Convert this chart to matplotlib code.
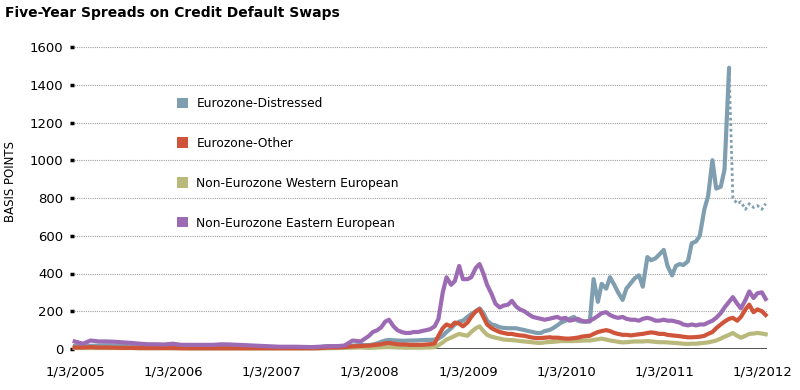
import pandas as pd
import matplotlib
matplotlib.use('Agg')
import matplotlib.pyplot as plt
from matplotlib.patches import Patch

# monthly points 2005-2007, semi-monthly from 2008 on
dates = list(pd.date_range('2005-01-01', '2007-12-01', freq='MS')) + \
        list(pd.date_range('2008-01-01', '2012-01-15', freq='SMS'))

distressed = [
    18, 17, 17, 18, 20, 18, 17, 16, 15, 14, 14, 13,  # 2005
    13, 12, 12, 12, 13, 13, 12, 12, 11, 10, 10, 10,  # 2006
    9, 8, 8, 8, 8, 9, 10, 14, 14, 16, 18, 22,  # 2007
    20, 24, 30, 38, 45, 48, 46, 45, 44, 44, 45, 45,
    46, 47, 48, 48, 50, 55, 70, 90, 110, 130, 145, 150,  # 2008
    170, 185, 200, 215, 190, 150, 130, 125, 115, 112, 110, 110,
    110, 105, 100, 95, 90, 85, 85, 95, 100, 110, 125, 140,  # 2009
    150, 160, 170, 150, 145, 145, 145, 370, 250, 345, 320, 380,
    340, 300, 260, 320, 350, 375, 390, 330, 487, 470, 480, 500,  # 2010
    525, 440, 390, 440, 450, 445, 465, 560, 570, 600, 740, 810,
    1000, 850, 860, 950, 1490, 800, 770, 780, 740, 770, 750, 760,  # 2011
    740, 770,  # 2012
]
other = [
    8, 8, 10, 8, 8, 7, 6, 6, 5, 5, 5, 5,
    5, 4, 4, 4, 4, 4, 4, 4, 4, 4, 4, 4,
    4, 4, 4, 4, 4, 4, 5, 8, 8, 10, 14, 16,
    18, 20, 22, 25, 30, 32, 28, 25, 24, 24, 22, 22,
    22, 22, 24, 25, 30, 70, 110, 130, 120, 140, 135, 120,
    140, 170, 200, 210, 170, 130, 110, 100, 90, 85, 80, 80,
    75, 72, 70, 65, 60, 58, 58, 60, 62, 60, 60, 58,
    55, 55, 58, 60, 65, 68, 70, 80, 90, 95, 100, 95,
    85, 80, 75, 75, 72, 75, 78, 80, 85, 88, 85, 80,
    80, 75, 72, 70, 68, 65, 62, 62, 63, 65, 70, 80,
    90, 110, 130, 145, 160, 165, 150, 170, 210, 235, 195, 210,
    200, 180,
]
western = [
    5, 5, 5, 5, 5, 5, 5, 5, 4, 4, 4, 4,
    4, 4, 3, 3, 3, 3, 3, 3, 3, 3, 3, 3,
    3, 3, 3, 3, 3, 3, 3, 4, 5, 6, 7, 8,
    6, 7, 8, 9, 10, 10, 9, 8, 8, 7, 7, 7,
    7, 7, 8, 8, 10, 20, 35, 50, 60, 70, 80, 75,
    70, 90, 110, 120, 95, 75, 65, 60, 55, 50, 48, 47,
    45, 42, 40, 38, 35, 33, 32, 35, 37, 38, 40, 42,
    42, 42, 42, 43, 44, 45, 45, 48, 52, 55, 50, 45,
    42, 38, 35, 36, 38, 40, 40, 40, 42, 40, 38, 36,
    36, 35, 33, 32, 30, 28, 27, 28, 28, 30, 32, 35,
    40, 45, 55, 65, 75, 85, 70, 60, 70, 80, 82, 85,
    82, 78,
]
eastern = [
    40, 28, 45, 40, 40, 38, 35, 32, 28, 25, 25, 24,
    28, 22, 22, 22, 22, 22, 25, 24, 22, 20, 18, 16,
    14, 12, 12, 12, 11, 10, 12, 15, 15, 18, 45, 40,
    70, 90, 100, 115, 145, 155, 120, 100, 90, 85, 85, 90,
    90, 95, 100, 105, 120, 160, 300, 380, 340, 360, 440, 370,
    370, 380, 430, 450, 400, 340, 290, 240, 220, 230, 235, 255,
    225, 210, 200, 185, 170, 165, 160, 155, 160, 165, 170, 160,
    165, 150, 155, 160, 150, 145, 150, 160, 175, 190, 195, 180,
    170, 165, 170, 160, 155, 155, 150, 160, 165, 160, 150, 150,
    155, 150, 150, 145, 140, 130, 125, 130, 125, 130, 130, 140,
    150, 165, 190, 220, 250, 275, 240, 215, 260, 305, 270, 295,
    300, 265,
]

names = ['Eurozone-Distressed', 'Eurozone-Other',
         'Non-Eurozone Western European', 'Non-Eurozone Eastern European']
colors = ['#7f9fb0', '#d0543a', '#b9b97c', '#9d6bb3']
peak_date = pd.Timestamp('2011-09-01')  # distressed series turns dotted after this
yticks = [0, 200, 400, 600, 800, 1000, 1200, 1400, 1600]
xtick_dates = pd.to_datetime(['2005-01-03', '2006-01-03', '2007-01-03', '2008-01-03',
                              '2009-01-03', '2010-01-03', '2011-01-03', '2012-01-03'])
xtick_labels = ['1/3/2005', '1/3/2006', '1/3/2007', '1/3/2008',
                '1/3/2009', '1/3/2010', '1/3/2011', '1/3/2012']

df = pd.DataFrame({'date': dates, 'dist': distressed, 'other': other,
                   'west': western, 'east': eastern})

fig = plt.figure(figsize=(8, 3.9), dpi=100)
ax = fig.add_axes([72 / 800, 1 - 349 / 390, 695 / 800, 302 / 390])

lw = 3.0
solid = df[df['date'] <= peak_date]
dotted = df[df['date'] >= peak_date]
ax.plot(solid['date'], solid['dist'], color=colors[0], lw=lw, clip_on=False, solid_capstyle='round')
ax.plot(dotted['date'], dotted['dist'], color=colors[0], lw=2, linestyle=(0, (1, 1)), clip_on=False)
ax.plot(df['date'], df['west'], color=colors[2], lw=lw, clip_on=False)
ax.plot(df['date'], df['other'], color=colors[1], lw=lw, clip_on=False)
ax.plot(df['date'], df['east'], color=colors[3], lw=lw, clip_on=False)

ax.axhline(0, color='#444444', lw=1.3, zorder=1)

ax.set_ylim(0, 1600)
ax.set_xlim(pd.Timestamp('2004-12-22'), pd.Timestamp('2012-01-20'))
ax.set_yticks(yticks)
ax.set_xticks(xtick_dates)
ax.set_xticklabels(xtick_labels)
ax.yaxis.grid(True, linestyle=(0, (1, 1)), color='#a0a0a0', lw=0.8)
ax.set_axisbelow(True)
for s in ax.spines.values():
    s.set_visible(False)
ax.tick_params(axis='x', length=0, pad=12, labelsize=9.5)
ax.tick_params(axis='y', direction='inout', length=2.5, width=2.5, color='black', pad=5, labelsize=9.5)

fig.text(5 / 800, 1 - 13 / 390, 'Five-Year Spreads on Credit Default Swaps',
         fontsize=10, fontweight='bold', va='center', ha='left')
fig.text(11 / 800, 1 - 182 / 390, 'BASIS POINTS', rotation=90,
         fontsize=8.5, va='center', ha='center')

handles = [Patch(facecolor=c, edgecolor='none') for c in colors]
ax.legend(handles, names, loc='upper left', bbox_to_anchor=(172 / 800, 1 - 92 / 390),
          bbox_transform=fig.transFigure, frameon=False, fontsize=8.8,
          handlelength=0.9, handleheight=0.9, handletextpad=0.7, labelspacing=2.2,
          borderaxespad=0)

fig.savefig('out.png', dpi=100)
